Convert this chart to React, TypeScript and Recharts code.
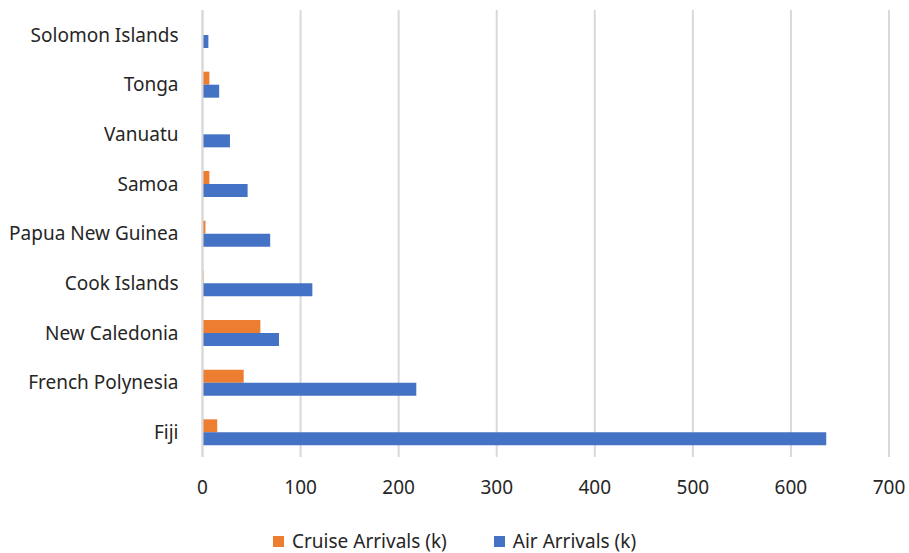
import { BarChart, Bar, XAxis, YAxis, CartesianGrid, Legend } from "recharts";

const islands = [
  "Solomon Islands",
  "Tonga",
  "Vanuatu",
  "Samoa",
  "Papua New Guinea",
  "Cook Islands",
  "New Caledonia",
  "French Polynesia",
  "Fiji",
];

const cruiseArrivals = [0, 7, 0, 7, 3, 1, 59, 42, 15];
const airArrivals = [6, 17, 28, 46, 69, 112, 78, 218, 636];

const xTicks = [0, 100, 200, 300, 400, 500, 600, 700];

const CRUISE = "#ED7D31";
const AIR = "#4472C4";
const FONT = "'Noto Sans', 'Open Sans', sans-serif";

const chartData = islands.map((name, i) => ({
  name,
  cruise: cruiseArrivals[i],
  air: airArrivals[i],
}));

function LegendBox() {
  const items = [
    { label: "Cruise Arrivals (k)", color: CRUISE },
    { label: "Air Arrivals (k)", color: AIR },
  ];
  return (
    <div
      style={{
        display: "flex",
        justifyContent: "flex-start",
        gap: 47,
        fontFamily: FONT,
        fontSize: 19,
        lineHeight: "18px",
        color: "#262626",
        paddingLeft: 273,
        paddingTop: 7,
      }}
    >
      {items.map((it) => (
        <div key={it.label} style={{ display: "flex", alignItems: "center" }}>
          <span
            style={{
              width: 11,
              height: 11,
              background: it.color,
              marginRight: 8,
              display: "inline-block",
            }}
          />
          {it.label}
        </div>
      ))}
    </div>
  );
}

export default function App() {
  return (
    <div style={{ position: "absolute", left: 0, top: 0 }}>
      <BarChart
        width={909}
        height={553}
        data={chartData}
        layout="vertical"
        margin={{ top: 10, right: 20, bottom: 0, left: 0 }}
        barSize={13}
        barGap={0}
      >
        <CartesianGrid horizontal={false} stroke="#d9d9d9" strokeWidth={2} />
        <XAxis
          type="number"
          domain={[0, 700]}
          ticks={xTicks}
          height={68}
          axisLine={false}
          tickLine={false}
          tickSize={0}
          tickMargin={24}
          tick={{ fontSize: 19, fill: "#262626", fontFamily: FONT }}
        />
        <YAxis
          type="category"
          dataKey="name"
          width={202.5}
          axisLine={{ stroke: "#d9d9d9", strokeWidth: 2 }}
          tickLine={false}
          tickSize={0}
          tickMargin={24}
          tick={{ fontSize: 19, fill: "#262626", fontFamily: FONT }}
        />
        <Legend verticalAlign="bottom" height={28} content={() => <LegendBox />} />
        <Bar dataKey="cruise" name="Cruise Arrivals (k)" fill={CRUISE} isAnimationActive={false} />
        <Bar dataKey="air" name="Air Arrivals (k)" fill={AIR} isAnimationActive={false} />
      </BarChart>
    </div>
  );
}
